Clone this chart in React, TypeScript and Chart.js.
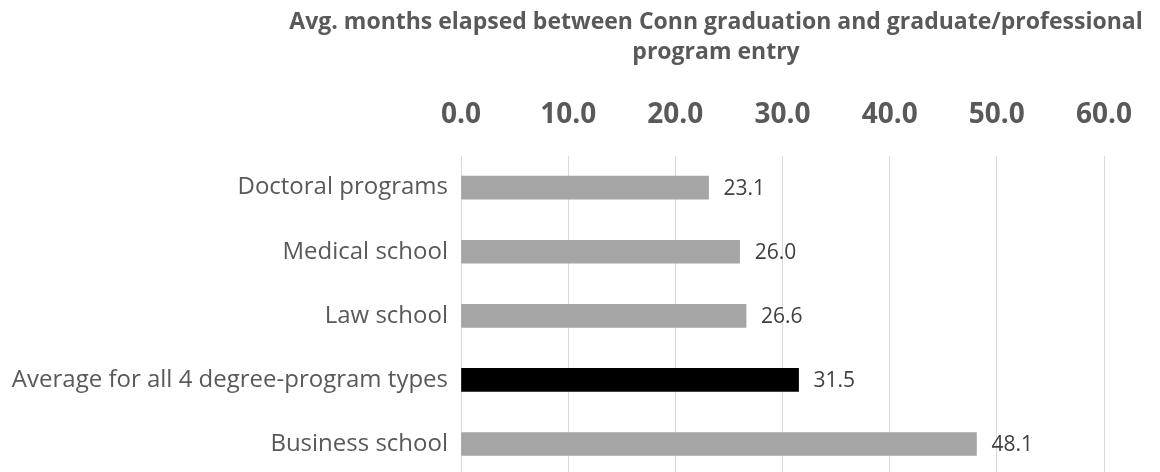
import React, { useEffect, useRef } from "react";
import { Chart, registerables } from "chart.js";

Chart.register(...registerables);

const categories = [
  "Doctoral programs",
  "Medical school",
  "Law school",
  "Average for all 4 degree-program types",
  "Business school",
];
const values = [23.1, 26.0, 26.6, 31.5, 48.1];
const barColors = ["#a5a5a5", "#a5a5a5", "#a5a5a5", "#000000", "#a5a5a5"];
const titleLines = [
  "Avg. months elapsed between Conn graduation and graduate/professional",
  "program entry",
];
const xMin = 0;
const xMax = 60;
const xStep = 10;

const FONT = "'Open Sans', Lato, sans-serif";

const titlePlugin = {
  id: "customTitle",
  afterDraw(chart: any) {
    const { ctx } = chart;
    ctx.save();
    ctx.fillStyle = "#595959";
    ctx.font = `bold 23px ${FONT}`;
    ctx.textAlign = "center";
    ctx.textBaseline = "alphabetic";
    const cx = 716;
    ctx.fillText(titleLines[0], cx, 29);
    ctx.fillText(titleLines[1], cx, 59);
    ctx.restore();
  },
};

const dataLabelPlugin = {
  id: "dataLabels",
  afterDatasetsDraw(chart: any) {
    const { ctx } = chart;
    const meta = chart.getDatasetMeta(0);
    ctx.save();
    ctx.fillStyle = "#404040";
    ctx.font = `21px ${FONT}`;
    ctx.textAlign = "left";
    ctx.textBaseline = "middle";
    meta.data.forEach((bar: any, i: number) => {
      ctx.fillText(values[i].toFixed(1), bar.x + 15, bar.y + 1);
    });
    ctx.restore();
  },
};

export default function App() {
  const ref = useRef<HTMLCanvasElement | null>(null);
  useEffect(() => {
    if (!ref.current) return;
    const chart = new Chart(ref.current, {
      type: "bar",
      data: {
        labels: categories,
        datasets: [
          {
            data: values,
            backgroundColor: barColors,
            barThickness: 23,
          },
        ],
      },
      options: {
        indexAxis: "y",
        animation: false,
        responsive: false,
        maintainAspectRatio: false,
        layout: { padding: { top: 74, right: 56, bottom: 0, left: 0 } },
        plugins: {
          legend: { display: false },
          title: { display: false },
          tooltip: { enabled: false },
        },
        scales: {
          x: {
            position: "top",
            min: xMin,
            max: xMax,
            border: { display: false },
            grid: { color: "#d9d9d9", lineWidth: 1, drawTicks: false },
            ticks: {
              stepSize: xStep,
              padding: 24,
              color: "#595959",
              font: { family: FONT, size: 28, weight: "bold" },
              callback: (v: any) => Number(v).toFixed(1),
            },
          },
          y: {
            border: { display: false },
            grid: { display: false, drawTicks: false },
            afterFit: (s: any) => {
              s.width = 461;
              s.paddingTop = 0;
              s.paddingBottom = 0;
            },
            ticks: {
              padding: 13,
              color: "#595959",
              font: { family: FONT, size: 24 },
            },
          },
        },
      },
      plugins: [titlePlugin, dataLabelPlugin],
    });
    return () => chart.destroy();
  }, []);
  return (
    <div style={{ position: "absolute", left: 0, top: 0, width: 1160, height: 476 }}>
      <canvas ref={ref} width={1160} height={476} style={{ display: "block" }} />
    </div>
  );
}
